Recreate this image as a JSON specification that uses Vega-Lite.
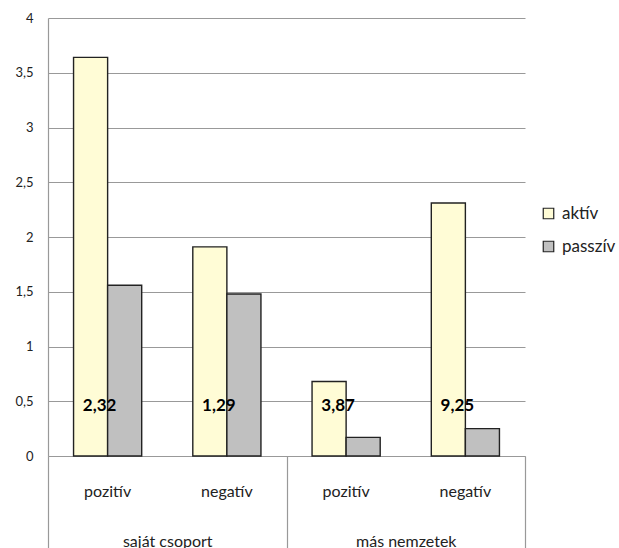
{
  "$schema": "https://vega.github.io/schema/vega-lite/v6.json",
  "width": 477,
  "height": 438,
  "autosize": {"type": "none"},
  "padding": {"left": 48, "top": 18, "right": 94, "bottom": 92},
  "background": "white",
  "config": {
    "view": {"stroke": null},
    "font": "Lato",
    "axis": {"labelFont": "Lato", "labelColor": "#222"},
    "legend": {"labelFont": "Lato"}
  },
  "datasets": {
    "bars": [
      {"key": "saját csoport / pozitív", "group": "saját csoport", "series": "aktív", "value": 3.64},
      {"key": "saját csoport / pozitív", "group": "saját csoport", "series": "passzív", "value": 1.56},
      {"key": "saját csoport / negatív", "group": "saját csoport", "series": "aktív", "value": 1.91},
      {"key": "saját csoport / negatív", "group": "saját csoport", "series": "passzív", "value": 1.48},
      {"key": "más nemzetek / pozitív", "group": "más nemzetek", "series": "aktív", "value": 0.68},
      {"key": "más nemzetek / pozitív", "group": "más nemzetek", "series": "passzív", "value": 0.17},
      {"key": "más nemzetek / negatív", "group": "más nemzetek", "series": "aktív", "value": 2.31},
      {"key": "más nemzetek / negatív", "group": "más nemzetek", "series": "passzív", "value": 0.25}
    ],
    "labels": [
      {"key": "saját csoport / pozitív", "label": "2,32"},
      {"key": "saját csoport / negatív", "label": "1,29"},
      {"key": "más nemzetek / pozitív", "label": "3,87"},
      {"key": "más nemzetek / negatív", "label": "9,25"}
    ]
  },
  "layer": [
    {
      "layer": [
        {
          "data": {"name": "bars"},
          "mark": {"type": "bar", "stroke": "#222", "strokeWidth": 1.4},
          "encoding": {
            "x": {
              "field": "key", "type": "nominal", "sort": null,
              "scale": {"paddingInner": 0, "paddingOuter": 0},
              "axis": {
                "title": null, "labelAngle": 0, "ticks": false,
                "domainColor": "#999", "domainWidth": 1.2,
                "labelExpr": "split(datum.label, ' / ')[1]",
                "labelFontSize": 16, "labelPadding": 27, "labelBaseline": "top"
              }
            },
            "xOffset": {
              "field": "series", "type": "nominal",
              "scale": {"paddingInner": 0, "paddingOuter": 0.75}
            },
            "y": {
              "field": "value", "type": "quantitative",
              "scale": {"domain": [0, 4]},
              "axis": {
                "title": null, "values": [0, 0.5, 1, 1.5, 2, 2.5, 3, 3.5, 4],
                "labelExpr": "replace(format(datum.value, ''), '.', ',')",
                "ticks": false, "labelPadding": 15, "labelFontSize": 13,
                "gridColor": "#999", "gridWidth": 1.2,
                "domain": true, "domainColor": "#999", "domainWidth": 1.2
              }
            },
            "fill": {
              "field": "series", "type": "nominal",
              "scale": {"domain": ["aktív", "passzív"], "range": ["#FFFCD6", "#C0C0C0"]},
              "legend": {
                "title": null, "orient": "none", "legendX": 492, "legendY": 187,
                "symbolType": "square", "symbolSize": 110, "symbolStrokeColor": "#222",
                "symbolStrokeWidth": 1.2, "labelFontSize": 17, "labelColor": "#222",
                "rowPadding": 15, "labelOffset": 5, "padding": 0
              }
            }
          }
        },
        {
          "data": {"name": "labels"},
          "mark": {"type": "text", "fontWeight": "bold", "fontSize": 17, "dx": -8, "baseline": "middle", "color": "#000"},
          "encoding": {
            "x": {"field": "key", "type": "nominal", "sort": null},
            "y": {"datum": 0.457},
            "text": {"field": "label"}
          }
        }
      ]
    },
    {
      "data": {"name": "bars"},
      "mark": {"type": "rule", "opacity": 0},
      "encoding": {
        "x": {
          "field": "group", "type": "nominal", "sort": null,
          "scale": {"domain": ["saját csoport", "más nemzetek"], "paddingInner": 0, "paddingOuter": 0},
          "axis": {
            "orient": "bottom", "title": null, "labelAngle": 0, "domain": false,
            "ticks": true, "tickBand": "extent", "tickSize": 92, "tickColor": "#999", "tickWidth": 1.2,
            "labelFontSize": 16, "labelPadding": -15, "labelBaseline": "top"
          }
        }
      }
    }
  ],
  "resolve": {"scale": {"x": "independent"}, "axis": {"x": "independent"}}
}
